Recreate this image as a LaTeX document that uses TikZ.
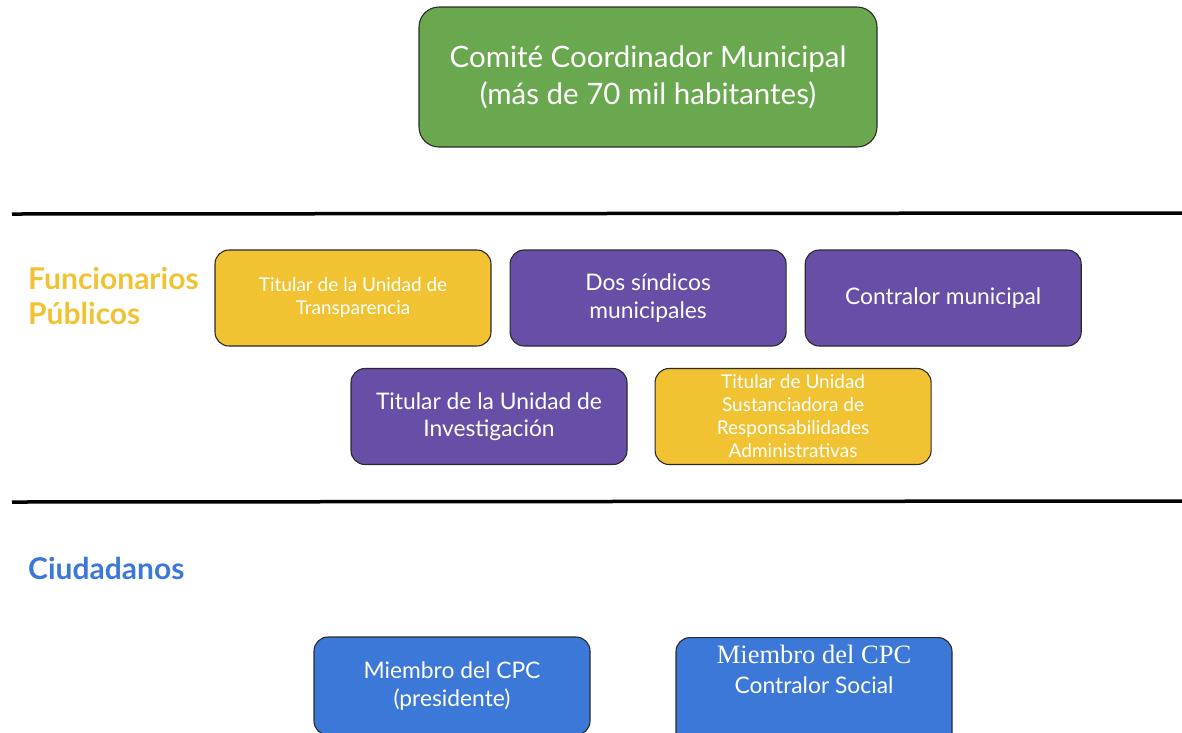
\documentclass[tikz,border=0pt]{standalone}
\usepackage{fontspec}
\setmainfont{Lato}
\newfontfamily\cpcserif{Liberation Serif}
\usepackage{xcolor}
\definecolor{cGreen}{HTML}{6AA84F}
\definecolor{cPurple}{HTML}{674EA7}
\definecolor{cYellow}{HTML}{F1C232}
\definecolor{cBlue}{HTML}{3C78D8}
\definecolor{cEdge}{HTML}{2B2B2B}
\usepackage{tikz}
\usetikzlibrary{positioning}
\tikzset{
  node-box/.style={draw=cEdge,line width=1.1pt,rounded corners=14pt,
    minimum height=96pt,minimum width=276pt,align=center,text=white,
    inner sep=2pt,font=\fontsize{22.8}{27.5}\selectfont},
  node-small/.style={font=\fontsize{19}{23}\selectfont},
  node-green/.style={fill=cGreen,rounded corners=20pt,minimum width=458pt,
    minimum height=140pt,font=\fontsize{29.5}{37}\selectfont},
  node-yellow/.style={fill=cYellow},
  node-purple/.style={fill=cPurple},
  node-blue/.style={fill=cBlue},
  group-label/.style={anchor=west,align=left,inner sep=0pt,
    font=\bfseries\fontsize{30}{35}\selectfont},
  divider/.style={line width=3.5pt,draw=black},
}

\begin{document}
\begin{tikzpicture}
  \useasboundingbox (0,0) rectangle (1182pt,-732pt);
  \clip (0,0) rectangle (1182pt,-732pt);
  % comite
  \node[node-box,node-green] (ccm) at (648pt,-77pt) {Comité Coordinador Municipal\\(más de 70 mil habitantes)};
  % separadores
  \coordinate (div1-l) at (12pt,-214pt);
  \coordinate (div1-r) at (1182pt,-213pt);
  \coordinate (div2-l) at (12pt,-502pt);
  \coordinate (div2-r) at (1182pt,-501pt);
  \draw[divider] (div1-l) -- (div1-r);
  \draw[divider] (div2-l) -- (div2-r);
  % funcionarios publicos
  \node[group-label,text=cYellow] (fp) at (28pt,-296pt) {Funcionarios\\Públicos};
  \node[node-box,node-yellow,node-small] (transp) at (353pt,-298pt) {Titular de la Unidad de\\Transparencia\rule[-4pt]{0pt}{4pt}};
  \node[node-box,node-purple,right=18pt of transp] (sindicos) {Dos síndicos\\municipales};
  \node[node-box,node-purple,right=18pt of sindicos] (contralor) {Contralor municipal\rule[-3pt]{0pt}{3pt}};
  \node[node-box,node-purple] (invest) at (489pt,-416.5pt) {Titular de la Unidad de\\Investigación};
  \node[node-box,node-yellow,node-small,right=27pt of invest] (sustan) {Titular de Unidad\\Sustanciadora de\\Responsabilidades\\Administrativas};
  % ciudadanos
  \node[group-label,text=cBlue] (ciud) at (28pt,-568pt) {Ciudadanos};
  \node[node-box,node-blue,minimum height=98pt] (cpc-pres) at (452pt,-686pt) {Miembro del CPC\\(presidente)};
  \node[node-box,node-blue,minimum height=120pt,anchor=north] (cpc-cs) at (814pt,-637pt) {};
  \node[align=center,text=white,inner sep=0pt,below=8pt of cpc-cs.north,font=\fontsize{22.8}{30}\selectfont] (cpc-cs-text)
    {{\cpcserif\fontsize{26.5}{30}\selectfont Miembro del CPC}\\Contralor Social};
\end{tikzpicture}
\end{document}
